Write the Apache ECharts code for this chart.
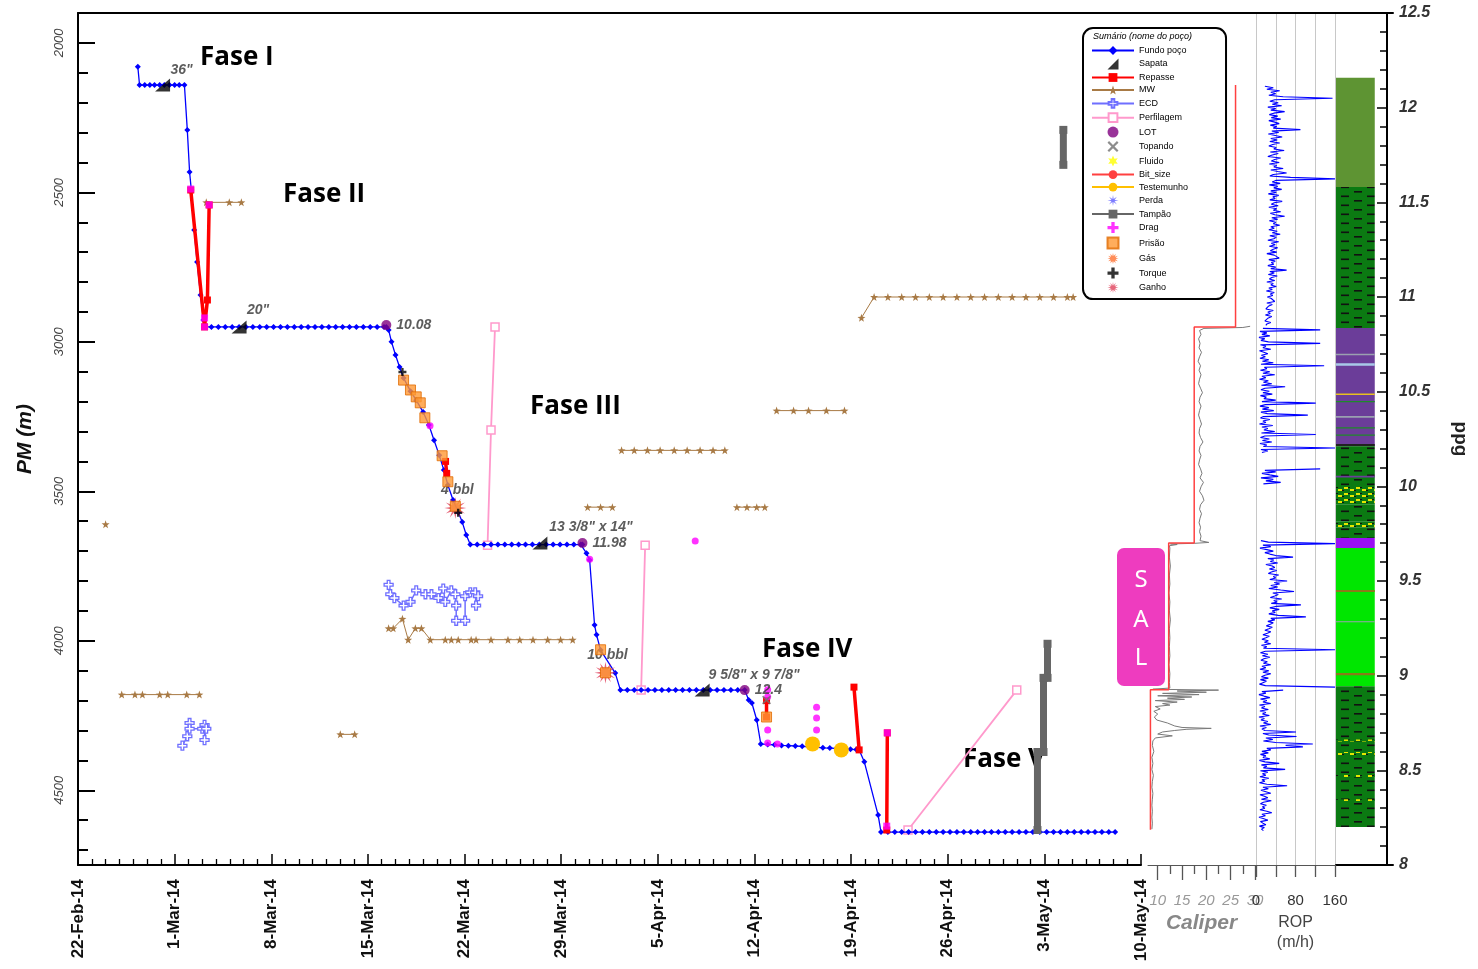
<!DOCTYPE html>
<html>
<head>
<meta charset="utf-8">
<script src="https://cdn.jsdelivr.net/npm/echarts@6/dist/echarts.min.js"></script>
<style>
html,body{margin:0;padding:0;background:#fff;}
#chart{width:1478px;height:969px;}
</style>
</head>
<body>
<div id="chart"></div>
<script>
// ---------- data (time as 'MM-DD HH:mm' in 2014, depth in m, mud weight in ppg) ----------
const depthMajor = [2000, 2500, 3000, 3500, 4000, 4500];
const depthMinor = [2100, 2200, 2300, 2400, 2600, 2700, 2800, 2900, 3100, 3200, 3300, 3400,
                    3600, 3700, 3800, 3900, 4100, 4200, 4300, 4400, 4600, 4700];
const caliperMajor = [10, 15, 20, 25, 30];
const caliperMinor = [12.5, 17.5, 22.5, 27.5];
const ropLabels = [0, 80, 160];
const monthNames = ['Jan','Feb','Mar','Apr','May','Jun','Jul','Aug','Sep','Oct','Nov','Dec'];

// well bottom (Fundo poço)
const fundoPoco = [
  ['02-26 08:00',2080],['02-26 11:00',2141],['02-26 20:00',2141],['02-27 05:00',2141],['02-27 13:00',2141],
  ['02-27 22:00',2141],['02-28 06:00',2141],['02-28 15:00',2141],['03-01 00:00',2141],['03-01 08:00',2141],
  ['03-01 17:00',2141],['03-01 22:00',2291],['03-02 02:00',2432],['03-02 05:00',2492],['03-02 10:00',2626],
  ['03-02 15:00',2733],['03-02 21:00',2843],['03-03 02:00',2927],['03-03 04:00',2950],
  ['03-03 16:00',2950],['03-04 04:00',2950],['03-04 16:00',2950],['03-05 04:00',2950],['03-05 16:00',2950],
  ['03-06 04:00',2950],['03-06 16:00',2950],['03-07 04:00',2950],['03-07 16:00',2950],['03-08 04:00',2950],
  ['03-08 16:00',2950],['03-09 04:00',2950],['03-09 16:00',2950],['03-10 04:00',2950],['03-10 16:00',2950],
  ['03-11 04:00',2950],['03-11 16:00',2950],['03-12 04:00',2950],['03-12 16:00',2950],['03-13 04:00',2950],
  ['03-13 16:00',2950],['03-14 04:00',2950],['03-14 16:00',2950],['03-15 04:00',2950],['03-15 16:00',2950],
  ['03-16 04:00',2950],['03-16 08:00',2950],
  ['03-16 12:00',2960],['03-16 17:00',3000],['03-17 00:00',3044],['03-17 07:00',3084],['03-17 14:00',3121],
  ['03-18 02:00',3165],['03-18 12:00',3195],['03-19 00:00',3235],['03-19 10:00',3278],['03-19 19:00',3329],
  ['03-20 04:00',3379],['03-20 12:00',3429],['03-20 19:00',3479],['03-21 04:00',3529],['03-21 13:00',3569],
  ['03-21 20:00',3603],['03-22 03:00',3646],['03-22 10:00',3678],
  ['03-22 22:00',3678],['03-23 10:00',3678],['03-23 22:00',3678],['03-24 10:00',3678],['03-24 22:00',3678],
  ['03-25 10:00',3678],['03-25 22:00',3678],['03-26 10:00',3678],['03-26 22:00',3678],['03-27 10:00',3678],
  ['03-27 22:00',3678],['03-28 10:00',3678],['03-28 22:00',3678],['03-29 10:00',3678],['03-29 22:00',3678],
  ['03-30 10:00',3678],['03-30 13:00',3678],
  ['03-30 20:00',3707],['03-31 01:30',3730],['03-31 10:00',3947],['03-31 13:30',3980],['03-31 20:30',4031],
  ['04-01 22:00',4108],['04-02 07:00',4165],
  ['04-02 19:00',4165],['04-03 07:00',4165],['04-03 19:00',4165],['04-04 07:00',4165],['04-04 19:00',4165],
  ['04-05 07:00',4165],['04-05 19:00',4165],['04-06 07:00',4165],['04-06 19:00',4165],['04-07 07:00',4165],
  ['04-07 19:00',4165],['04-08 07:00',4165],['04-08 19:00',4165],['04-09 07:00',4165],['04-09 19:00',4165],
  ['04-10 07:00',4165],['04-10 19:00',4165],['04-11 07:00',4165],
  ['04-11 14:00',4198],['04-11 19:30',4208],['04-12 04:00',4265],['04-12 11:00',4345],
  ['04-12 23:00',4347],['04-13 11:00',4348],['04-13 23:00',4350],['04-14 11:00',4351],['04-14 23:00',4352],
  ['04-15 11:00',4353],['04-15 23:00',4355],['04-16 11:00',4356],['04-16 23:00',4358],['04-17 11:00',4359],
  ['04-17 23:00',4360],['04-18 11:00',4362],['04-18 23:00',4363],['04-19 09:00',4364],
  ['04-19 14:00',4365],['04-19 23:00',4405],['04-20 23:00',4583],['04-21 04:00',4640],
  ['04-21 16:00',4640],['04-22 04:00',4640],['04-22 16:00',4640],['04-23 04:00',4640],['04-23 16:00',4640],
  ['04-24 04:00',4640],['04-24 16:00',4640],['04-25 04:00',4640],['04-25 16:00',4640],['04-26 04:00',4640],
  ['04-26 16:00',4640],['04-27 04:00',4640],['04-27 16:00',4640],['04-28 04:00',4640],['04-28 16:00',4640],
  ['04-29 04:00',4640],['04-29 16:00',4640],['04-30 04:00',4640],['04-30 16:00',4640],['05-01 04:00',4640],
  ['05-01 16:00',4640],['05-02 04:00',4640],['05-02 16:00',4640],['05-03 04:00',4640],['05-03 16:00',4640],
  ['05-04 04:00',4640],['05-04 16:00',4640],['05-05 04:00',4640],['05-05 16:00',4640],['05-06 04:00',4640],
  ['05-06 16:00',4640],['05-07 04:00',4640],['05-07 16:00',4640],['05-08 03:00',4640]
];

// casing shoes (Sapata): time, depth, size
const sapata = [
  ['02-28 03:00',2141,'36"'],
  ['03-05 16:00',2950,'20"'],
  ['03-27 11:00',3673,'13 3/8" x 14"'],
  ['04-08 05:00',4165,'9 5/8" x 9 7/8"']
];

// reaming runs (Repasse); null splits runs
const repasse = [
  ['03-02 04:00',2492],['03-03 04:00',2950],['03-03 09:00',2860],['03-03 12:00',2542], null,
  ['03-20 15:00',3400],['03-20 17:00',3440], null,
  ['04-12 21:00',4200],['04-12 21:00',4255], null,
  ['04-19 05:00',4155],['04-19 14:00',4365], null,
  ['04-21 15:00',4308],['04-21 14:00',4633]
];

// mud weight (MW, ppg)
const mw = [
  ['02-24 00:00',9.80], null,
  ['02-25 04:00',8.90],['02-26 03:00',8.90],['02-26 16:00',8.90],['02-27 22:00',8.90],['02-28 12:00',8.90],
  ['03-01 21:00',8.90],['03-02 19:00',8.90], null,
  ['03-03 07:00',11.50],['03-04 23:00',11.50],['03-05 20:00',11.50], null,
  ['03-13 00:00',8.69],['03-14 01:00',8.69], null,
  ['03-16 12:00',9.25],['03-16 20:00',9.25],['03-17 12:00',9.30],['03-17 22:00',9.19],['03-18 10:30',9.25],
  ['03-18 21:00',9.25],['03-19 12:30',9.19],['03-20 14:30',9.19],['03-21 01:00',9.19],['03-21 13:00',9.19],
  ['03-22 11:30',9.19],['03-22 20:00',9.19],['03-23 22:00',9.19],['03-25 03:30',9.19],['03-26 00:00',9.19],
  ['03-26 23:00',9.19],['03-28 00:30',9.19],['03-28 23:00',9.19],['03-29 20:00',9.19], null,
  ['03-30 22:00',9.89],['03-31 20:30',9.89],['04-01 17:00',9.89], null,
  ['04-02 09:00',10.19],['04-03 07:00',10.19],['04-04 06:00',10.19],['04-05 04:00',10.19],['04-06 04:30',10.19],
  ['04-07 03:00',10.19],['04-08 01:30',10.19],['04-09 00:00',10.19],['04-09 20:30',10.19], null,
  ['04-10 17:30',9.89],['04-11 11:00',9.89],['04-12 04:00',9.89],['04-12 18:00',9.89], null,
  ['04-13 14:30',10.40],['04-14 20:00',10.40],['04-15 22:00',10.40],['04-17 05:00',10.40],['04-18 12:30',10.40], null,
  ['04-19 18:00',10.89],['04-20 16:00',11.00],['04-21 16:00',11.00],['04-22 16:00',11.00],['04-23 16:00',11.00],
  ['04-24 16:00',11.00],['04-25 16:00',11.00],['04-26 16:00',11.00],['04-27 16:00',11.00],['04-28 16:00',11.00],
  ['04-29 16:00',11.00],['04-30 16:00',11.00],['05-01 16:00',11.00],['05-02 16:00',11.00],['05-03 16:00',11.00],
  ['05-04 16:00',11.00],['05-05 02:00',11.00]
];

// equivalent circulating density (ECD, ppg)
const ecd = [
  ['03-01 13:30',8.63],['03-01 22:00',8.68],['03-02 02:00',8.75],['03-02 02:00',8.72],['03-03 00:00',8.72],
  ['03-03 04:00',8.74],['03-03 04:00',8.66],['03-03 07:00',8.72], null,
  ['03-16 12:00',9.48],['03-16 15:00',9.43],['03-16 22:00',9.41],['03-17 14:00',9.37],['03-18 02:00',9.39],
  ['03-18 12:00',9.45],['03-19 04:00',9.43],['03-19 14:30',9.43],['03-20 02:30',9.41],['03-20 11:00',9.46],
  ['03-20 14:30',9.39],['03-21 01:00',9.45],['03-21 08:00',9.43],['03-21 09:30',9.37],['03-21 09:30',9.29],
  ['03-22 01:00',9.29],['03-22 01:00',9.42],['03-22 10:00',9.44],['03-22 18:30',9.44],['03-22 20:00',9.37],
  ['03-22 23:30',9.42]
];

// logging runs (Perfilagem)
const perfilagem = [
  ['03-23 16:00',3680],['03-23 22:00',3295],['03-24 05:00',2950], null,
  ['04-03 19:00',4165],['04-04 02:00',3680], null,
  ['04-23 03:00',4633],['05-01 00:00',4165]
];

// leak-off tests (LOT): time, depth, result (ppg)
const lot = [
  ['03-16 08:00',2944,'10.08'],
  ['03-30 13:00',3673,'11.98'],
  ['04-11 07:00',4165,'12.4']
];

const topando = [['04-12 21:00',4198]];
const testemunho = [['04-16 05:00',4345], null, ['04-18 07:00',4365]];
const tampao = [
  ['05-04 09:00',2291],['05-04 09:00',2408], null,
  ['05-02 12:00',4633],['05-02 12:00',4372],['05-02 22:30',4372],['05-02 22:30',4124],
  ['05-03 05:30',4124],['05-03 05:30',4010]
];
const drag = [
  ['03-02 04:00',2489,'rect'],['03-03 12:00',2542,'rect'],['03-03 04:00',2920,'rect'],['03-03 04:00',2950,'rect'],
  ['03-19 12:00',3281,'circle'],['03-31 01:30',3727,'circle'],['04-07 17:00',3666,'circle'],
  ['04-12 23:00',4164,'circle'],['04-12 23:00',4187,'circle'],['04-12 23:00',4298,'circle'],
  ['04-16 12:00',4222,'circle'],['04-16 12:00',4258,'circle'],['04-16 12:00',4298,'circle'],
  ['04-12 23:00',4342,'circle'],['04-13 16:00',4345,'circle'],
  ['04-21 15:00',4308,'rect'],['04-21 14:00',4620,'rect']
];
const prisao = [
  ['03-17 14:00',3128],['03-18 02:00',3161],['03-18 12:00',3184],['03-18 19:00',3204],['03-19 03:00',3254],
  ['03-20 09:00',3381],['03-20 19:00',3468],['03-21 08:00',3550],['03-31 20:30',4030],['04-01 05:00',4107],
  ['04-12 21:00',4255]
];
const torque = [['03-17 12:00',3101],['03-21 13:00',3572]];
// volume gains (Ganho): time, depth, volume
const ganho = [['03-21 08:00',3556,'4 bbl'],['04-01 05:00',4107,'10 bbl']];

// bit size (in) against depth
const bitSize = [[26,2141],[26,2950],[17.5,2950],[17.5,3673],[12.25,3673],[12.25,4164],[8.5,4164],[8.5,4632]];

// caliper log (in) against depth
const caliper = [
  [29.0,2948],[27.5,2952],[19.5,2955],[18.6,2962],[18.9,2975],[18.4,2990],[18.7,3005],[18.5,3020],[19.0,3035],
  [18.6,3050],[18.3,3065],[18.8,3080],[18.5,3095],[18.9,3110],[18.6,3125],[18.4,3140],[18.8,3155],[19.2,3170],
  [18.7,3185],[18.5,3200],[18.9,3215],[18.6,3230],[18.4,3245],[18.7,3260],[19.0,3275],[18.6,3290],[18.5,3305],
  [18.8,3320],[19.3,3335],[18.7,3350],[18.5,3365],[18.9,3380],[18.6,3395],[18.4,3410],[18.8,3425],[19.1,3440],
  [18.7,3455],[19.4,3470],[18.9,3485],[18.6,3500],[19.2,3515],[19.5,3530],[18.8,3545],[18.6,3560],[19.0,3575],
  [18.7,3590],[18.5,3605],[18.8,3620],[18.6,3635],[18.9,3650],[18.7,3665],[20.5,3671],[17.5,3674],[12.6,3676],
  [14.0,3678],[12.4,3682],[12.5,3690],[12.4,3720],[12.6,3750],[12.4,3780],[12.5,3810],[12.3,3840],[12.5,3870],
  [12.4,3900],[12.6,3930],[12.4,3960],[12.5,3990],[12.4,4020],[12.5,4050],[12.3,4080],[12.5,4110],[12.4,4140],
  [12.5,4158],[9.0,4162],[22.5,4165],[14.0,4168],[20.0,4172],[11.0,4176],[18.5,4180],[10.0,4184],[17.0,4188],
  [12.0,4192],[15.5,4196],[9.5,4200],[14.0,4205],[11.0,4210],[12.5,4215],[9.5,4220],[10.5,4228],[9.2,4236],
  [10.0,4245],[9.3,4255],[9.8,4265],[12.0,4275],[13.5,4285],[15.0,4290],[21.0,4293],[16.0,4296],[13.5,4300],
  [11.0,4305],[10.0,4312],[13.0,4318],[9.5,4325],[9.0,4335],[8.9,4350],[9.2,4370],[8.8,4390],[9.0,4410],
  [8.8,4430],[9.1,4450],[8.9,4470],[8.8,4490],[9.0,4510],[8.9,4530],[8.8,4550],[8.9,4570],[8.8,4590],
  [8.9,4610],[8.8,4630]
];

// rate of penetration (m/h), one reading every 5 m from each run's first depth
const ropStart = [2145, 2955, 3425, 3665, 4165];
const ropA = [
  18,35,22,48,30,40,26,55,155,38,28,45,33,52,24,40,30,58,36,27,
  44,31,50,26,38,47,29,42,35,90,32,46,25,39,53,30,43,28,48,34,
  26,41,36,57,29,45,33,24,50,38,31,47,27,42,36,55,30,44,62,35,
  28,70,160,40,33,49,27,44,36,52,30,41,25,46,34,39,28,53,37,31,
  45,26,42,35,50,29,38,58,32,44,27,40,35,48,30,37,26,43,33,49,
  28,41,36,24,46,31,39,27,44,35,29,42,22,37,33,47,26,39,31,36,
  24,40,30,62,28,37,25,43,32,27,38,22,35,30,41,26,33,21,37,29,
  34,23,31,27,38,22,33,26,30,20,35,24,29,19,32,25,28,18,30,22,
  20];
const ropB = [
  14,130,8,22,12,28,6,18,10,25,130,9,20,14,30,7,16,24,11,19,
  8,26,13,35,10,138,17,22,9,28,14,38,12,20,7,25,15,32,11,59,
  18,10,27,14,33,9,21,16,40,12,121,19,8,26,13,36,10,23,105,15,
  9,28,14,20,7,34,12,24,16,38,11,121,18,9,27,13,32,8,22,15,
  160,10,24,12];
const ropB2 = [130,18,40,12,28,45,10,35,20,50,15];
const ropC = [
  10,25,160,14,30,8,22,35,18,28,40,75,24,36,29,44,20,33,38,27,
  42,31,25,46,35,40,28,63,37,48,30,44,26,50,77,34,45,38,29,52,
  36,43,31,91,40,28,47,33,39,26,45,101,30,38,24,35,29,21,33,26,
  18,30,23,14,27,20,12,25,17,30,11,22,15,160,19,9,24,13,28,16,
  10,23,15,30,12,20,8,26,14,30,18,11,25,9,21,14,7,19,160];
const ropD = [
  55,12,20,6,16,28,9,22,14,30,7,18,11,25,8,20,13,27,6,17,
  10,24,15,30,8,21,12,18,81,14,26,82,20,34,15,40,115,60,95,22,
  30,12,25,9,20,14,28,7,18,47,11,22,15,59,9,24,13,20,8,26,
  12,18,7,22,63,14,25,10,20,30,8,17,24,11,31,15,9,21,13,18,
  8,22,32,12,19,6,16,24,9,14,20,7,17,11,15];

// lithology column: top (m), base (m), rock type
const litho = [
  [2117,2482,'oliva'],[2482,2954,'folhelho'],[2954,3349,'calcilutito'],
  [3040,3045,'cinza'],[3072,3080,'azul'],[3173,3178,'amarelo'],[3198,3202,'verde'],[3248,3254,'cinza'],
  [3286,3290,'verde'],[3310,3314,'verde'],[3342,3349,'preto'],
  [3349,3482,'folhelho'],[3448,3454,'calcilutito'],[3482,3543,'arenito'],[3543,3600,'folhelho'],
  [3600,3622,'arenito'],[3622,3656,'folhelho'],[3656,3690,'anidrita'],[3690,4152,'halita'],
  [3830,3837,'marrom'],[3935,3938,'cinza'],[4108,4115,'marrom'],
  [4152,4623,'folhelho'],[4330,4337,'arenito'],[4372,4386,'arenito'],[4445,4456,'arenito'],[4530,4536,'arenito']
];

// ---------- helpers ----------
function t(s) {
  const parts = s.split(' ');
  const md = parts[0].split('-').map(Number);
  const hm = parts[1].split(':').map(Number);
  return Date.UTC(2014, md[0] - 1, md[1], hm[0], hm[1]);
}
const GAP = ['-', '-'];
function timed(list) { return list.map(p => p === null ? GAP : [t(p[0]), p[1]]); }

function starPath(n, r1, r2) {
  let s = 'path://';
  for (let i = 0; i < 2 * n; i++) {
    const r = i % 2 ? r2 : r1;
    const a = Math.PI * i / n - Math.PI / 2;
    s += (i ? 'L' : 'M') + (10 + r * Math.cos(a)).toFixed(2) + ',' + (10 + r * Math.sin(a)).toFixed(2);
  }
  return s + 'Z';
}
const PLUS = 'path://M3.5,0H6.5V3.5H10V6.5H6.5V10H3.5V6.5H0V3.5H3.5Z';
const XMARK = 'path://M1.4,0L5,3.6L8.6,0L10,1.4L6.4,5L10,8.6L8.6,10L5,6.4L1.4,10L0,8.6L3.6,5L0,1.4Z';
const SHOE = 'path://M0,10L10,0L10,10Z';
const SQUARE = 'path://M0,0H10V10H0Z';

function pattern(w, h, bg, draw) {
  const c = document.createElement('canvas');
  c.width = w; c.height = h;
  const g = c.getContext('2d');
  g.fillStyle = bg; g.fillRect(0, 0, w, h);
  draw(g);
  return { image: c, repeat: 'repeat' };
}
const shaleFill = pattern(26, 9, '#0b7a12', g => {
  g.fillStyle = '#111'; g.fillRect(2, 2, 8, 1.6); g.fillRect(15, 6.5, 8, 1.6);
});
const sandFill = pattern(12, 6, '#0b7a12', g => {
  g.fillStyle = '#e6e600'; g.fillRect(0, 1, 4, 2); g.fillRect(6, 3, 4, 2);
  g.fillStyle = '#111'; g.fillRect(4, 1, 2, 1); g.fillRect(10, 4, 2, 1);
});
const lithoFill = {
  oliva: '#5e9433', folhelho: shaleFill, calcilutito: '#6b3d99', arenito: sandFill,
  anidrita: '#9a10f5', halita: '#00e600', marrom: '#8a7a1a', cinza: '#9aa0b0',
  verde: '#1f8a2a', azul: '#a8c8e8', amarelo: '#e8c020', preto: '#222'
};
const lithoKinds = Object.keys(lithoFill);

function fmtDate(v) {
  const d = new Date(v);
  return d.getUTCDate() + '-' + monthNames[d.getUTCMonth()] + '-14';
}

const DAY = 86400000;
const T0 = Date.UTC(2014, 1, 22), T1 = Date.UTC(2014, 4, 10);
const D0 = 1900, D1 = 4750;

const ropData = [];
[ropA, ropB, ropB2, ropC, ropD].forEach((run, k) => {
  run.forEach((v, i) => ropData.push([v, ropStart[k] + 5 * i]));
  ropData.push(GAP);
});

const labelFont = { fontFamily: 'Liberation Sans', fontWeight: 'bold', fontStyle: 'italic', fontSize: 14, color: '#333' };
const sapataOffset = [[19, -15], [19, -17], [51, -16], [52, -15]];

const hidden = { show: false };
function depthAxis(grid) {
  return { gridIndex: grid, type: 'value', min: D0, max: D1, inverse: true, show: false };
}

// ---------- chart ----------
const chart = echarts.init(document.getElementById('chart'));
chart.setOption({
  animation: false,
  backgroundColor: '#fff',
  grid: [
    { left: 78, top: 13, width: 1315, height: 852 },   // outer frame
    { left: 78, top: 13, width: 1069, height: 852 },   // time-depth
    { left: 1148, top: 13, width: 107, height: 852 },  // caliper
    { left: 1256, top: 13, width: 79, height: 852 },   // ROP
    { left: 1336, top: 13, width: 57, height: 852 }    // lithology
  ],
  xAxis: [
    { gridIndex: 0, type: 'value', min: 0, max: 1, position: 'top',
      axisLine: { show: true, onZero: false, lineStyle: { color: '#000', width: 2 } },
      axisTick: hidden, axisLabel: hidden, splitLine: hidden },
    { gridIndex: 1, type: 'value', min: T0, max: T1, interval: 7 * DAY, position: 'bottom',
      axisLine: { onZero: false, lineStyle: { color: '#000', width: 2 } },
      axisTick: { inside: true, length: 11, lineStyle: { color: '#000', width: 1.5 } },
      minorTick: { show: true, splitNumber: 7, length: 6, lineStyle: { color: '#000', width: 1.3 } },
      axisLabel: { rotate: 90, formatter: fmtDate, margin: 14, fontSize: 17, fontWeight: 'bold',
                   fontFamily: 'Liberation Sans', color: '#111' },
      splitLine: hidden },
    { gridIndex: 2, type: 'value', min: 8, max: 30, position: 'bottom',
      axisLine: { onZero: false, lineStyle: { color: '#555', width: 1 } },
      axisTick: { customValues: caliperMajor, length: 15, lineStyle: { color: '#555', width: 1.3 } },
      axisLabel: { customValues: caliperMajor, margin: 28, fontSize: 15, fontStyle: 'italic',
                   fontFamily: 'Liberation Sans', color: '#999' },
      name: 'Caliper', nameLocation: 'middle', nameGap: 44,
      nameTextStyle: { fontSize: 21, fontStyle: 'italic', fontWeight: 'bold', color: '#888', fontFamily: 'Liberation Sans' },
      splitLine: hidden },
    { gridIndex: 2, type: 'value', min: 8, max: 30, position: 'bottom',
      axisLine: { show: false, onZero: false },
      axisTick: { customValues: caliperMinor, length: 9, lineStyle: { color: '#555', width: 1.3 } },
      axisLabel: hidden, splitLine: hidden },
    { gridIndex: 3, type: 'value', min: 0, max: 160, interval: 40, position: 'bottom',
      axisLine: { onZero: false, lineStyle: { color: '#555', width: 1 } },
      axisTick: { length: 12, lineStyle: { color: '#555', width: 1.3 } },
      axisLabel: { customValues: ropLabels, margin: 28, fontSize: 15, fontFamily: 'Liberation Sans', color: '#333' },
      name: 'ROP\n(m/h)', nameLocation: 'middle', nameGap: 46,
      nameTextStyle: { fontSize: 16, lineHeight: 20, color: '#444', fontFamily: 'Liberation Sans' },
      splitLine: { show: true, lineStyle: { color: '#c8c8c8', width: 1 } } },
    { gridIndex: 4, type: 'value', min: 0, max: 100, position: 'bottom',
      axisLine: { onZero: false, lineStyle: { color: '#000', width: 2 } },
      axisTick: hidden, axisLabel: hidden, splitLine: hidden }
  ],
  yAxis: [
    { gridIndex: 0, type: 'value', min: 0, max: 1, show: false },
    { gridIndex: 1, type: 'value', min: D0, max: D1, inverse: true, position: 'left',
      axisLine: { show: true, onZero: false, lineStyle: { color: '#000', width: 2 } },
      axisTick: { show: true, inside: true, length: 17, customValues: depthMajor, lineStyle: { color: '#000', width: 2 } },
      axisLabel: { customValues: depthMajor, formatter: v => String(v), rotate: 90, margin: 12, fontSize: 13,
                   fontStyle: 'italic', fontFamily: 'Liberation Sans', color: '#444' },
      name: 'PM (m)', nameLocation: 'middle', nameGap: 42, nameRotate: 90,
      nameTextStyle: { fontSize: 21, fontWeight: 'bold', fontStyle: 'italic', color: '#111', fontFamily: 'Liberation Sans' },
      splitLine: hidden },
    { gridIndex: 1, type: 'value', min: D0, max: D1, inverse: true, position: 'left',
      axisLine: { show: false, onZero: false },
      axisTick: { show: true, inside: true, length: 10, customValues: depthMinor, lineStyle: { color: '#000', width: 2 } },
      axisLabel: hidden, splitLine: hidden },
    { gridIndex: 1, type: 'value', min: 8, max: 12.5, interval: 0.5, position: 'right', offset: 246,
      axisLine: { show: true, onZero: false, lineStyle: { color: '#000', width: 2 } },
      axisTick: { show: true, inside: true, length: 10, lineStyle: { color: '#000', width: 1.5 } },
      minorTick: { show: true, splitNumber: 5, length: 7, lineStyle: { color: '#000', width: 1.5 } },
      axisLabel: { margin: 12, fontSize: 16, fontWeight: 'bold', fontStyle: 'italic',
                   fontFamily: 'Liberation Sans', color: '#333' },
      name: 'ppg', nameLocation: 'middle', nameRotate: -90, nameGap: 64,
      nameTextStyle: { fontSize: 19, fontWeight: 'bold', color: '#222', fontFamily: 'Liberation Sans' },
      splitLine: hidden },
    depthAxis(2), depthAxis(3), depthAxis(4)
  ],
  legend: {
    data: ['Fundo poço','Sapata','Repasse','MW','ECD','Perfilagem','LOT','Topando','Fluido','Bit_size',
           'Testemunho','Perda','Tampão','Drag','Prisão','Gás','Torque','Ganho'],
    orient: 'vertical', left: 1083, top: 28, padding: [18, 38, 6, 8],
    itemGap: 3.5, itemWidth: 42, itemHeight: 11,
    textStyle: { fontSize: 9, fontFamily: 'Liberation Sans', color: '#000' },
    borderColor: '#000', borderWidth: 2, borderRadius: 10, backgroundColor: '#fff',
    selectedMode: false, z: 20
  },
  graphic: [
    { type: 'text', left: 1093, top: 32, z: 30,
      style: { text: 'Sumário (nome do poço)', font: 'italic 9px "Liberation Sans"', fill: '#000' } },
    { type: 'text', left: 200, top: 45, style: { text: 'Fase I', font: 'bold 26px "Open Sans"', fill: '#000' } },
    { type: 'text', left: 283, top: 182, style: { text: 'Fase II', font: 'bold 26px "Open Sans"', fill: '#000' } },
    { type: 'text', left: 530, top: 394, style: { text: 'Fase III', font: 'bold 26px "Open Sans"', fill: '#000' } },
    { type: 'text', left: 762, top: 637, style: { text: 'Fase IV', font: 'bold 26px "Open Sans"', fill: '#000' } },
    { type: 'text', left: 963, top: 747, style: { text: 'Fase V', font: 'bold 26px "Open Sans"', fill: '#000' } },
    { type: 'group', left: 1117, top: 548, z: 25, children: [
      { type: 'rect', shape: { x: 0, y: 0, width: 48, height: 138, r: 7 }, style: { fill: '#ee3cbf' } },
      { type: 'text', x: 24, y: 32, style: { text: 'S', font: '24px "Noto Sans"', fill: '#fff', align: 'center', verticalAlign: 'middle' } },
      { type: 'text', x: 24, y: 72, style: { text: 'A', font: '24px "Noto Sans"', fill: '#fff', align: 'center', verticalAlign: 'middle' } },
      { type: 'text', x: 24, y: 110, style: { text: 'L', font: '24px "Noto Sans"', fill: '#fff', align: 'center', verticalAlign: 'middle' } }
    ] }
  ],
  series: [
    { name: 'Perfilagem', type: 'line', xAxisIndex: 1, yAxisIndex: 1, data: timed(perfilagem), z: 2,
      symbol: 'rect', symbolSize: 8, itemStyle: { color: '#fff', borderColor: '#ff99cc', borderWidth: 1.5 },
      lineStyle: { color: '#ff99cc', width: 1.8 } },
    { name: 'MW', type: 'line', xAxisIndex: 1, yAxisIndex: 3, data: timed(mw), z: 2,
      symbol: starPath(5, 10, 4), symbolSize: 8, itemStyle: { color: '#a87a45' },
      lineStyle: { color: '#a87a45', width: 1 } },
    { name: 'ECD', type: 'line', xAxisIndex: 1, yAxisIndex: 3, data: timed(ecd), z: 2,
      symbol: PLUS, symbolSize: 9, itemStyle: { color: '#fff', borderColor: '#6f6fff', borderWidth: 1.3 },
      lineStyle: { color: '#6f6fff', width: 1.5 } },
    { name: 'Fundo poço', type: 'line', xAxisIndex: 1, yAxisIndex: 1, data: timed(fundoPoco), z: 3,
      symbol: 'diamond', symbolSize: 6, itemStyle: { color: '#0000ff' },
      lineStyle: { color: '#0000ff', width: 1.3 } },
    { name: 'Repasse', type: 'line', xAxisIndex: 1, yAxisIndex: 1, data: timed(repasse), z: 4,
      symbol: 'rect', symbolSize: 7, itemStyle: { color: '#ff0000' },
      lineStyle: { color: '#ff0000', width: 3.5 } },
    { name: 'Tampão', type: 'line', xAxisIndex: 1, yAxisIndex: 1, data: timed(tampao), z: 4,
      symbol: 'rect', symbolSize: 8, itemStyle: { color: '#666' },
      lineStyle: { color: '#666', width: 7 } },
    { name: 'Testemunho', type: 'line', xAxisIndex: 1, yAxisIndex: 1, data: timed(testemunho), z: 5,
      symbol: 'circle', symbolSize: 15, itemStyle: { color: '#ffc000' },
      lineStyle: { color: '#ffc000', width: 6 } },
    { name: 'Drag', type: 'scatter', xAxisIndex: 1, yAxisIndex: 1, z: 5,
      data: drag.map(p => ({ value: [t(p[0]), p[1]], symbol: p[2] })),
      symbol: PLUS, symbolSize: 7, itemStyle: { color: '#ff00ff' } },
    { name: 'Ganho', type: 'scatter', xAxisIndex: 1, yAxisIndex: 1, z: 5,
      data: ganho.map(p => ({ value: [t(p[0]), p[1]], label: { show: true, formatter: p[2] } })),
      symbol: starPath(12, 10, 4), symbolSize: 22, itemStyle: { color: '#e0405a' },
      label: Object.assign({ position: 'inside', offset: [2, -18] }, labelFont) },
    { name: 'Prisão', type: 'scatter', xAxisIndex: 1, yAxisIndex: 1, data: timed(prisao), z: 6,
      symbol: SQUARE, symbolSize: 10, itemStyle: { color: '#ff9933', borderColor: '#e06a00', borderWidth: 1 } },
    { name: 'Torque', type: 'scatter', xAxisIndex: 1, yAxisIndex: 1, data: timed(torque), z: 6,
      symbol: PLUS, symbolSize: 8, itemStyle: { color: '#000' } },
    { name: 'Topando', type: 'scatter', xAxisIndex: 1, yAxisIndex: 1, data: timed(topando), z: 6,
      symbol: XMARK, symbolSize: 9, itemStyle: { color: '#707070' } },
    { name: 'Sapata', type: 'scatter', xAxisIndex: 1, yAxisIndex: 1, z: 7,
      data: sapata.map((p, i) => ({ value: [t(p[0]), p[1]],
        label: { show: true, formatter: p[2], offset: sapataOffset[i] } })),
      symbol: SHOE, symbolSize: [15, 13], itemStyle: { color: '#000' },
      label: Object.assign({ position: 'inside' }, labelFont) },
    { name: 'LOT', type: 'scatter', xAxisIndex: 1, yAxisIndex: 1, z: 7,
      data: lot.map(p => ({ value: [t(p[0]), p[1]], label: { show: true, formatter: p[2] } })),
      symbol: 'circle', symbolSize: 10, itemStyle: { color: '#800080' },
      label: Object.assign({ position: 'right', distance: 5 }, labelFont) },
    { name: 'Fluido', type: 'scatter', xAxisIndex: 1, yAxisIndex: 1, data: [],
      symbol: starPath(6, 10, 5), symbolSize: 10, itemStyle: { color: '#ffff00' } },
    { name: 'Perda', type: 'scatter', xAxisIndex: 1, yAxisIndex: 1, data: [],
      symbol: starPath(8, 10, 3), symbolSize: 11, itemStyle: { color: '#5b5bff' } },
    { name: 'Gás', type: 'scatter', xAxisIndex: 1, yAxisIndex: 1, data: [],
      symbol: starPath(12, 10, 5), symbolSize: 11, itemStyle: { color: '#ff7030' } },
    // caliper panel
    { name: 'Caliper log', type: 'line', xAxisIndex: 2, yAxisIndex: 4, data: caliper, z: 2,
      symbol: 'none', lineStyle: { color: '#7a7a7a', width: 1 } },
    { name: 'Bit_size', type: 'line', xAxisIndex: 2, yAxisIndex: 4, data: bitSize, z: 3,
      symbol: 'none', itemStyle: { color: '#ff4040' }, lineStyle: { color: '#ff4040', width: 1.5 } },
    // ROP panel
    { name: 'ROP', type: 'line', xAxisIndex: 4, yAxisIndex: 5, data: ropData, z: 2,
      symbol: 'none', lineStyle: { color: '#0000ff', width: 1.1 } },
    // lithology column
    { name: 'Litologia', type: 'custom', xAxisIndex: 5, yAxisIndex: 6, silent: true, z: 2,
      data: litho.map(r => [r[0], r[1], lithoKinds.indexOf(r[2])]),
      encode: { y: [0, 1] },
      renderItem: function (params, api) {
        const a = api.coord([0, api.value(0)]);
        const b = api.coord([68, api.value(1)]);
        return { type: 'rect', shape: { x: a[0], y: a[1], width: b[0] - a[0], height: b[1] - a[1] },
                 style: { fill: lithoFill[lithoKinds[api.value(2)]] } };
      } }
  ]
});
</script>
</body>
</html>
